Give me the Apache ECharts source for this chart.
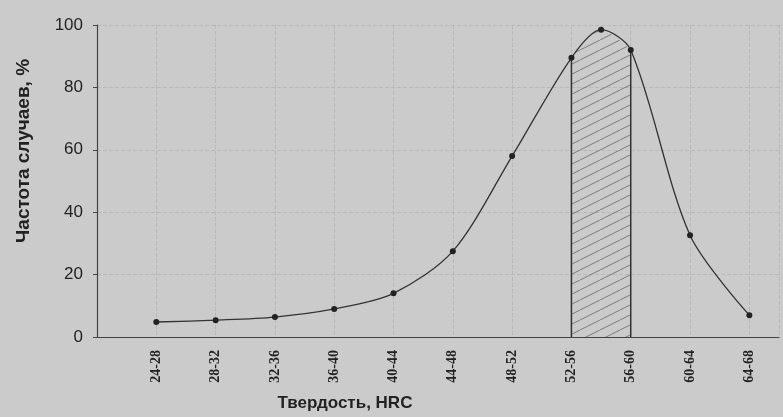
<!DOCTYPE html>
<html><head><meta charset="utf-8">
<script src="https://cdn.jsdelivr.net/npm/echarts@6/dist/echarts.min.js"></script>
<style>html,body{margin:0;padding:0;background:#cbcbcb;}#c{width:783px;height:417px;}</style>
</head><body><div id="c"></div>
<script>
const categories = ['24-28','28-32','32-36','36-40','40-44','44-48','48-52','52-56','56-60','60-64','64-68'];
// x position (category index), frequency %
const pointsX = [0, 1, 2, 3, 4, 5, 6, 7, 7.5, 8, 9, 10];
const pointsY = [4.8, 5.4, 6.4, 9, 14, 27.5, 58, 89.5, 98.5, 92, 32.6, 7];
const hatchX = [7, 7.5, 8];
const hatchY = [89.5, 98.5, 92];
const yTicks = [0, 20, 40, 60, 80, 100];

const pat = document.createElement('canvas');
pat.width = 20; pat.height = 10;
const pc = pat.getContext('2d');
pc.strokeStyle = '#666'; pc.lineWidth = 0.8;
[[0,10,20,0],[-20,10,0,0],[20,10,40,0]].forEach(s=>{pc.beginPath(); pc.moveTo(s[0],s[1]); pc.lineTo(s[2],s[3]); pc.stroke();});

const main = pointsX.map((x,i)=>[x, pointsY[i]]);
const hatch = hatchX.map((x,i)=>[x, hatchY[i]]);
const chart = echarts.init(document.getElementById('c'));
chart.setOption({
  backgroundColor: '#cbcbcb',
  animation: false,
  grid: {left: 97, top: 25, right: 4, bottom: 76},
  xAxis: {
    type: 'value', min: -1, max: 10.5, interval: 1,
    name: 'Твердость, HRC', nameLocation: 'middle', nameGap: 58,
    nameTextStyle: {fontFamily: 'Liberation Sans', fontWeight: 'bold', fontSize: 17, color: '#222', padding: [0,186,0,0]},
    axisLine: {lineStyle: {color: '#444', width: 1.2}},
    axisTick: {show: false},
    splitLine: {show: true, lineStyle: {color: '#b8b8b8', type: 'dashed', width: 1}},
    axisLabel: {rotate: 90, fontSize: 14, fontWeight: 'bold', color: '#222', fontFamily: 'Liberation Serif', margin: 13, showMaxLabel: false,
      formatter: v => (Number.isInteger(v) && v >= 0 && v < categories.length) ? categories[v] : ''}
  },
  yAxis: {
    type: 'value', min: 0, max: 100, interval: 20,
    name: 'Частота случаев, %', nameLocation: 'middle', nameGap: 64,
    nameTextStyle: {fontFamily: 'Liberation Sans', fontWeight: 'bold', fontSize: 19, color: '#222', padding: [0,0,0,60]},
    axisLine: {show: true, onZero: false, lineStyle: {color: '#444', width: 1.2}},
    axisTick: {show: true, length: 4, lineStyle: {color: '#444'}},
    splitLine: {show: true, lineStyle: {color: '#b8b8b8', type: 'dashed', width: 1}},
    axisLabel: {fontSize: 17, color: '#222', fontFamily: 'Liberation Sans', margin: 14,
      formatter: v => yTicks.includes(v) ? String(v) : ''}
  },
  series: [
    {type: 'line', data: hatch, smooth: 0.3, symbol: 'none', lineStyle: {width: 0},
     areaStyle: {color: {image: pat, repeat: 'repeat'}, opacity: 1}, z: 1},
    {type: 'line', data: [[hatchX[0],0],[hatchX[0],hatchY[0]]], symbol: 'none', lineStyle: {color: '#333', width: 1.5}, z: 2},
    {type: 'line', data: [[hatchX[2],0],[hatchX[2],hatchY[2]]], symbol: 'none', lineStyle: {color: '#333', width: 1.5}, z: 2},
    {type: 'line', data: main, smooth: 0.3, symbol: 'circle', symbolSize: 6,
     itemStyle: {color: '#222'}, lineStyle: {color: '#333', width: 1.3}, z: 3}
  ]
});
</script></body></html>
